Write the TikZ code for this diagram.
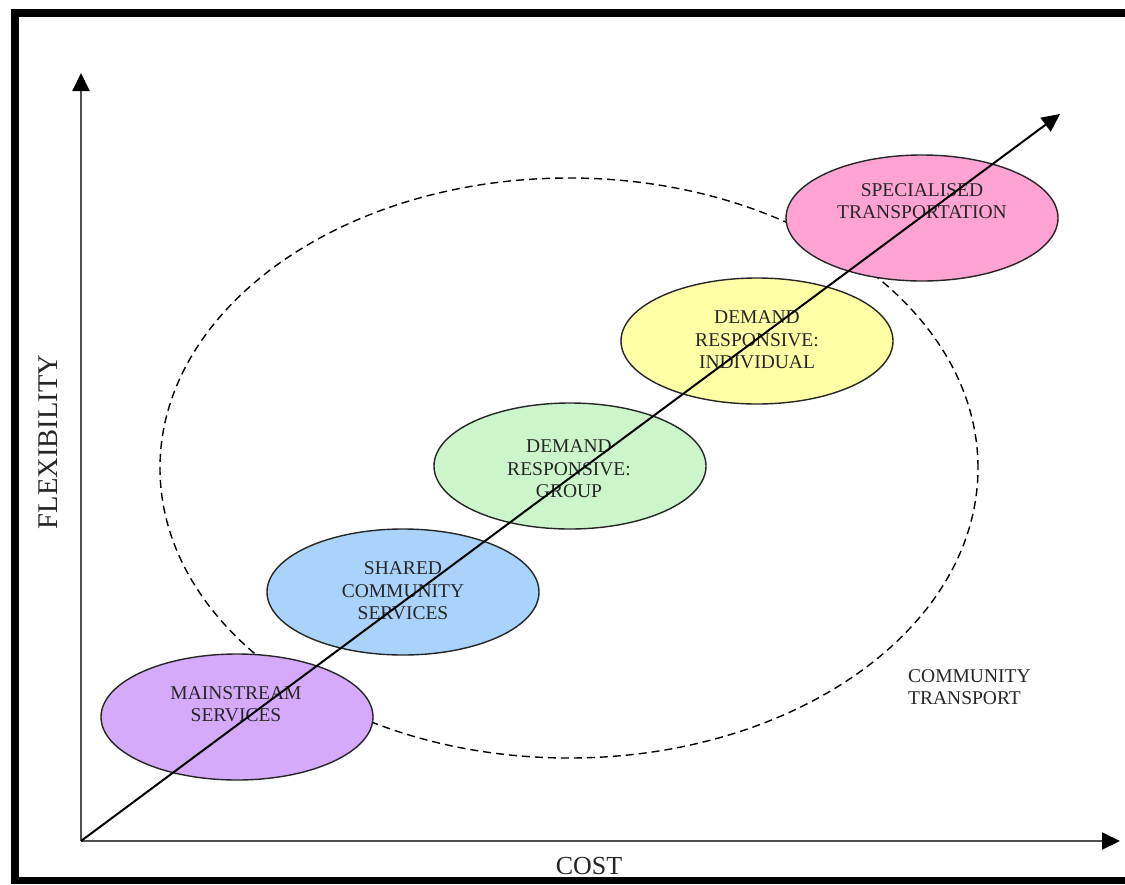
\documentclass[tikz,border=0pt]{standalone}
\usepackage{fontspec}
\setmainfont{Liberation Serif}
\usetikzlibrary{shapes.geometric,arrows.meta}
\definecolor{cmain}{HTML}{D6AAFA}
\definecolor{cshared}{HTML}{A9D3FA}
\definecolor{cgroup}{HTML}{CCF5CC}
\definecolor{cindiv}{HTML}{FFFFA5}
\definecolor{cspec}{HTML}{FFA3D4}
\definecolor{ctext}{HTML}{262626}
\definecolor{caxis}{HTML}{505050}
\begin{document}
\begin{tikzpicture}[x=1pt,y=-1pt,
  svc/.style={ellipse,draw=black!85,line width=1.4pt,minimum width=272pt,minimum height=126pt,inner sep=0pt},
  lbl/.style={font=\fontsize{19.5}{22.5}\selectfont,text=ctext,align=center,inner sep=0pt},
  axlbl/.style={font=\fontsize{26}{30}\selectfont,text=ctext,inner sep=0pt},
  axis/.style={draw=caxis,line width=2pt,-{Triangle[length=18pt,width=17pt,black]}},
  trend/.style={draw=black,line width=2pt,-{Triangle[length=18pt,width=17pt,black]}},
  region/.style={draw=black,line width=1.4pt,dash pattern=on 8pt off 5pt}]
\useasboundingbox (0,0) rectangle (1125,884);
\fill[white] (0,0) rectangle (1125,884);
% frame bars
\fill[black] (11,9) rectangle (19,884);
\fill[black] (11,9) rectangle (1125,17);
\fill[black] (11,877) rectangle (1125,884);
% community transport region
\node[region,ellipse,minimum width=818pt,minimum height=580pt,inner sep=0pt] (ct) at (569,468) {};
% service ellipses
\node[svc,fill=cmain]   (ms) at (237,717) {};
\node[svc,fill=cshared] (sh) at (403,592) {};
\node[svc,fill=cgroup]  (gr) at (570,466) {};
\node[svc,fill=cindiv]  (in) at (757,341) {};
\node[svc,fill=cspec]   (sp) at (922,218) {};
\node[lbl] (mst) at (236,704) {MAINSTREAM\\SERVICES};
\node[lbl] (sht) at (403,591) {SHARED\\COMMUNITY\\SERVICES};
\node[lbl] (grt) at (569,469) {DEMAND\\RESPONSIVE:\\GROUP};
\node[lbl] (int) at (757,340) {DEMAND\\RESPONSIVE:\\INDIVIDUAL};
\node[lbl] (spt) at (922,201) {SPECIALISED\\TRANSPORTATION};
\node[lbl,align=left,anchor=west] (ctt) at (908,687) {COMMUNITY\\TRANSPORT};
% axes
\coordinate (O) at (81,841);
\coordinate (ytip) at (81,73);
\coordinate (xtip) at (1120,841);
\coordinate (dtip) at (1060,114);
\draw[axis] (O) -- (ytip);
\draw[axis] (O) -- (xtip);
\draw[trend] (O) -- (dtip);
\node[axlbl,font=\fontsize{28.5}{32}\selectfont,rotate=90] (flex) at (48,442) {FLEXIBILITY};
\node[axlbl] (cost) at (589,866) {COST};
\end{tikzpicture}
\end{document}
